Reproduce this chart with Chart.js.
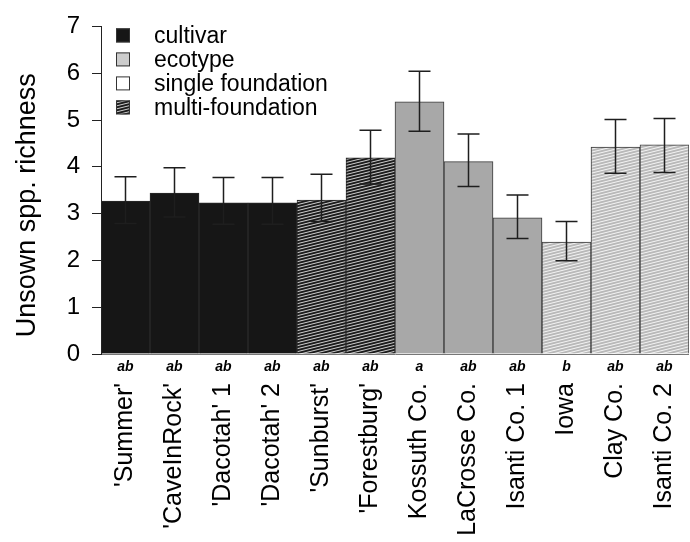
<!DOCTYPE html>
<html>
<head>
<meta charset="utf-8">
<script src="https://cdn.jsdelivr.net/npm/chart.js@4.4.1/dist/chart.umd.min.js"></script>
<style>
    body { margin: 0; background: #fff; }
    #wrap { width: 690px; height: 542px; }
</style>
</head>
<body>
<div id="wrap"><canvas id="richness"></canvas></div>
<script>
// bar categories (x axis) and significance letters
var populations = ["'Summer'", "'CaveInRock'", "'Dacotah' 1", "'Dacotah' 2", "'Sunburst'", "'Forestburg'",
    "Kossuth Co.", "LaCrosse Co.", "Isanti Co. 1", "Iowa", "Clay Co.", "Isanti Co. 2"]
var letters = ["ab", "ab", "ab", "ab", "ab", "ab", "a", "ab", "ab", "b", "ab", "ab"]
var seedType = ["cultivar", "cultivar", "cultivar", "cultivar", "cultivar", "cultivar",
    "ecotype", "ecotype", "ecotype", "ecotype", "ecotype", "ecotype"]
var foundation = ["single", "single", "single", "single", "multi", "multi",
    "single", "single", "single", "multi", "multi", "multi"]

// mean richness and error bar ends
var richness = [3.27, 3.44, 3.23, 3.23, 3.29, 4.19, 5.39, 4.11, 2.91, 2.39, 4.42, 4.47]
var errLow = [2.79, 2.93, 2.77, 2.77, 2.83, 3.63, 4.76, 3.58, 2.47, 1.99, 3.86, 3.88]
var errHigh = [3.79, 3.98, 3.77, 3.77, 3.84, 4.78, 6.04, 4.70, 3.40, 2.83, 5.01, 5.03]

var yTicks = [0, 1, 2, 3, 4, 5, 6, 7]
var legendLabels = ["cultivar", "ecotype", "single foundation", "multi-foundation"]

var FONT = "'Liberation Sans', Arial, sans-serif"

// shallow diagonal hatching like the R density fill
function hatch(base, line) {
    var c = document.createElement('canvas')
    c.width = 12
    c.height = 3
    var g = c.getContext('2d')
    g.fillStyle = base
    g.fillRect(0, 0, 12, 3)
    g.strokeStyle = line
    g.lineWidth = 1
    for (var k = -1; k <= 1; k++) {
        g.beginPath()
        g.moveTo(0, 3 + k * 3)
        g.lineTo(12, 0 + k * 3)
        g.stroke()
    }
    return g.createPattern(c, 'repeat')
}

var darkHatch = hatch('#1c1c1c', '#cfcfcf')
var lightHatch = hatch('#b9b9b9', '#f4f4f4')

var fills = [], borders = []
for (var i = 0; i < populations.length; i++) {
    if (seedType[i] == 'cultivar') {
        fills.push(foundation[i] == 'multi' ? darkHatch : '#161616')
        borders.push('#2a2a2a')
    } else {
        fills.push(foundation[i] == 'multi' ? lightHatch : '#a8a8a8')
        borders.push('#3a3a3a')
    }
}

// error bars drawn from the y scale
var errorBars = {
    id: 'errorBars',
    afterDatasetsDraw: function(chart) {
        var ctx = chart.ctx
        var y = chart.scales.y
        var meta = chart.getDatasetMeta(0)
        ctx.save()
        ctx.strokeStyle = '#1e1e1e'
        ctx.lineWidth = 1.5
        meta.data.forEach(function(bar, i) {
            var top = y.getPixelForValue(errHigh[i])
            var bot = y.getPixelForValue(errLow[i])
            ctx.beginPath()
            ctx.moveTo(bar.x, top)
            ctx.lineTo(bar.x, bot)
            ctx.moveTo(bar.x - 11, top)
            ctx.lineTo(bar.x + 11, top)
            ctx.moveTo(bar.x - 11, bot)
            ctx.lineTo(bar.x + 11, bot)
            ctx.stroke()
        })
        ctx.restore()
    }
}

// legend in the top-left corner of the plot
var boxLegend = {
    id: 'boxLegend',
    afterDraw: function(chart) {
        var ctx = chart.ctx
        var swatch = ['#161616', '#cccccc', '#ffffff', darkHatch]
        var x0 = chart.chartArea.left + 15
        var y0 = chart.chartArea.top + 9
        ctx.save()
        ctx.font = '23px ' + FONT
        ctx.textBaseline = 'middle'
        legendLabels.forEach(function(txt, i) {
            var cy = y0 + i * 24
            ctx.fillStyle = swatch[i]
            ctx.fillRect(x0, cy - 7, 14, 14)
            ctx.strokeStyle = '#333'
            ctx.lineWidth = 1
            ctx.strokeRect(x0 + 0.5, cy - 6.5, 13, 13)
            ctx.fillStyle = '#000'
            ctx.fillText(txt, x0 + 38, cy + 1)
        })
        ctx.restore()
    }
}

var ctx = document.getElementById('richness').getContext('2d')
var myBarChart = new Chart(ctx, {
    type: 'bar',
    data: {
        labels: populations,
        datasets: [{
            data: richness,
            backgroundColor: fills,
            borderColor: borders,
            borderWidth: 1,
            barPercentage: 1,
            categoryPercentage: 1
        }]
    },
    options: {
        responsive: true,
        maintainAspectRatio: false,
        animation: false,
        layout: { padding: { top: 19, right: 1, left: 0, bottom: 0 } },
        plugins: {
            legend: { display: false },
            tooltip: { enabled: false }
        },
        scales: {
            x: {
                position: 'bottom',
                offset: true,
                grid: { display: false, drawTicks: false },
                border: { display: false },
                ticks: {
                    autoSkip: false,
                    maxRotation: 0,
                    padding: 5,
                    color: '#000',
                    font: { family: FONT, size: 14, weight: 'bold', style: 'italic' },
                    callback: function(v, i) { return letters[i] }
                },
                afterFit: function(s) { s.height = 28; s.paddingLeft = 0; s.paddingRight = 0 }
            },
            x2: {
                type: 'category',
                position: 'bottom',
                offset: true,
                grid: { display: false, drawTicks: false },
                border: { display: false },
                ticks: {
                    autoSkip: false,
                    minRotation: 90,
                    maxRotation: 90,
                    padding: 1,
                    color: '#000',
                    font: { family: FONT, size: 25 }
                },
                afterFit: function(s) { s.height = 160; s.paddingLeft = 0; s.paddingRight = 0 }
            },
            y: {
                min: 0,
                max: 7,
                afterBuildTicks: function(s) { s.ticks = yTicks.map(function(v) { return { value: v } }) },
                border: { display: true, color: '#222', width: 1 },
                grid: {
                    drawOnChartArea: true,
                    tickLength: 9,
                    tickColor: '#222',
                    color: function(c) { return c.tick && c.tick.value === 0 ? '#777' : 'rgba(0,0,0,0)' }
                },
                ticks: {
                    padding: 12,
                    color: '#000',
                    font: { family: FONT, size: 24 }
                },
                title: {
                    display: true,
                    text: 'Unsown spp. richness\u00a0\u00a0\u00a0\u00a0',
                    color: '#000',
                    padding: { top: 11, bottom: 0 },
                    font: { family: FONT, size: 27 }
                },
                afterFit: function(s) { s.width = 101 }
            }
        }
    },
    plugins: [errorBars, boxLegend]
});
</script>
</body>
</html>
